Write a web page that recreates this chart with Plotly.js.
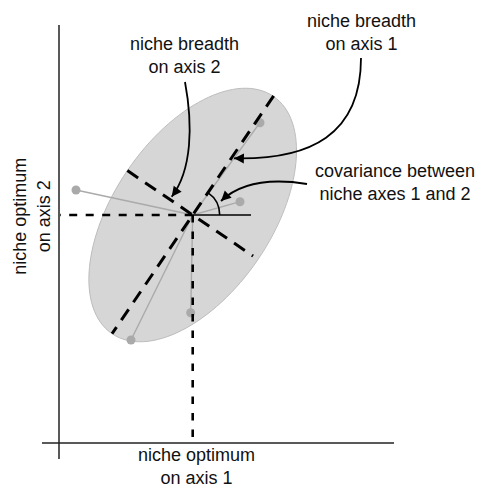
<!DOCTYPE html>
<html><head><meta charset="utf-8">
<script src="https://cdn.plot.ly/plotly-3.0.1.min.js"></script>
<style>html,body{margin:0;padding:0;background:#fff}#chart{width:477px;height:489px}</style>
</head><body><div id="chart"></div>
<script>
// ---- data (diagram units) ----
const axis1LineX = [-1.7, 33.5];      // horizontal axis extent (y = 0)
const axis2LineY = [-1.6, 41.8];      // vertical axis extent (x = 0)
const nicheCenter = [13.37, 22.8];    // niche optimum on axis 1, axis 2
const samplesX = [20.1, 18.1, 1.7, 13.17, 7.2];
const samplesY = [32.03, 24.13, 25.3, 13.03, 10.3];
const ellipseSemiAxes = [14.35, 7.9];
const ellipseAngleDeg = 55.8;
const minorAxisExtent = [-7.9, 7.3];
const majorAxisExtent = [-14.35, 14.4];
const covArcRadius = 2.7;
const refLineEndX = 19.2;
const guideEnds = [0.1, 0.5];         // left end of horizontal guide, bottom end of vertical guide
const arrowBreadth2X = [12.6, 13.4, 13.3, 11.27];
const arrowBreadth2Y = [36.1, 31.8, 27.3, 24.63];
const arrowBreadth1X = [30.2, 30.2, 25.1, 17.5];
const arrowBreadth1Y = [38.5, 30.8, 28.3, 28.47];
const arrowCovX = [24.8, 21.1, 18.1, 16.2];
const arrowCovY = [25.9, 26.5, 26.0, 24.2];
const labelTexts = ['niche breadth<br>on axis 2', 'niche breadth<br>on axis 1',
  'covariance between<br>niche axes 1 and 2', 'niche optimum<br>on axis 1', 'niche optimum<br>on axis 2'];
const labelX = [12.53, 30.27, 33.6, 13.7, -2.7];
const labelY = [38.72, 41.05, 26.05, -2.35, 22.63];
const labelAngle = [0, 0, 0, 0, -90];

// ---- build ----
const [cx, cy] = nicheCenter;
const th = ellipseAngleDeg * Math.PI / 180;
const ux = Math.cos(th), uy = Math.sin(th);      // major direction
const vx = -Math.sin(th), vy = Math.cos(th);     // minor direction
const f = v => v.toFixed(4);
function toW(p, q) { // local ellipse frame -> data
  return [cx + p * ux + q * vx, cy + p * uy + q * vy];
}
const [A, B] = ellipseSemiAxes, k = 0.5523;
const loc = [[A,0],[A,k*B],[k*A,B],[0,B],[-k*A,B],[-A,k*B],[-A,0],[-A,-k*B],[-k*A,-B],[0,-B],[k*A,-B],[A,-k*B],[A,0]];
const w = loc.map(p => toW(p[0], p[1]));
let ell = `M${f(w[0][0])},${f(w[0][1])}`;
for (let i = 1; i < w.length; i += 3) {
  ell += ` C${f(w[i][0])},${f(w[i][1])} ${f(w[i+1][0])},${f(w[i+1][1])} ${f(w[i+2][0])},${f(w[i+2][1])}`;
}
ell += ' Z';

const shapes = [];
shapes.push({type:'path', path: ell, xref:'x', yref:'y', layer:'below',
  fillcolor:'#d6d6d6', line:{color:'#bdbdbd', width:1}});
// axes
shapes.push({type:'line', xref:'x', yref:'y', x0:axis1LineX[0], x1:axis1LineX[1], y0:0, y1:0, line:{color:'#222', width:1.5}, layer:'above'});
shapes.push({type:'line', xref:'x', yref:'y', x0:0, x1:0, y0:axis2LineY[0], y1:axis2LineY[1], line:{color:'#222', width:1.5}, layer:'above'});
// guides
shapes.push({type:'line', xref:'x', yref:'y', x0:cx, x1:guideEnds[0], y0:cy, y1:cy, line:{color:'#000', width:2.6, dash:'8px,8.5px'}, layer:'above'});
shapes.push({type:'line', xref:'x', yref:'y', x0:cx, x1:cx, y0:cy, y1:guideEnds[1], line:{color:'#000', width:2.6, dash:'7.5px,9px'}, layer:'above'});
// ellipse axes
const m0 = toW(majorAxisExtent[1], 0), m1 = toW(majorAxisExtent[0], 0);
shapes.push({type:'line', xref:'x', yref:'y', x0:m0[0], y0:m0[1], x1:m1[0], y1:m1[1], line:{color:'#000', width:3, dash:'13px,8.5px'}, layer:'above'});
const n0 = toW(0, -minorAxisExtent[0]), n1 = toW(0, -minorAxisExtent[1]);
shapes.push({type:'line', xref:'x', yref:'y', x0:n0[0], y0:n0[1], x1:n1[0], y1:n1[1], line:{color:'#000', width:3, dash:'13px,8.5px'}, layer:'above'});
// reference horizontal line
shapes.push({type:'line', xref:'x', yref:'y', x0:cx, x1:refLineEndX, y0:cy, y1:cy, line:{color:'#000', width:1.6}, layer:'above'});
// covariance arc
const r = covArcRadius, kk = 4/3*Math.tan(th/4);
const p0 = [cx + r, cy], p1 = [cx + r, cy + kk*r];
const p3 = [cx + r*Math.cos(th), cy + r*Math.sin(th)];
const p2 = [p3[0] + kk*r*Math.sin(th), p3[1] - kk*r*Math.cos(th)];
shapes.push({type:'path', xref:'x', yref:'y', layer:'above',
  path:`M${f(p0[0])},${f(p0[1])} C${f(p1[0])},${f(p1[1])} ${f(p2[0])},${f(p2[1])} ${f(p3[0])},${f(p3[1])}`,
  line:{color:'#000', width:1.6}});

// curved arrows
const annotations = [];
[[arrowBreadth2X, arrowBreadth2Y],[arrowBreadth1X, arrowBreadth1Y],[arrowCovX, arrowCovY]].forEach(([X, Y]) => {
  shapes.push({type:'path', xref:'x', yref:'y', layer:'above',
    path:`M${X[0]},${Y[0]} C${X[1]},${Y[1]} ${X[2]},${Y[2]} ${X[3]},${Y[3]}`,
    line:{color:'#000', width:1.8}});
  const dx = X[2]-X[3], dy = Y[2]-Y[3], L = Math.hypot(dx, dy);
  annotations.push({x:X[3], y:Y[3], ax:X[3]+dx/L*0.8, ay:Y[3]+dy/L*0.8, axref:'x', ayref:'y',
    xref:'x', yref:'y', text:'', showarrow:true, arrowhead:2, arrowsize:1.1, arrowwidth:1.8,
    arrowcolor:'#000', standoff:0, startstandoff:0});
});
labelTexts.forEach((t, i) => {
  annotations.push({x:labelX[i], y:labelY[i], xref:'x', yref:'y', text:t, showarrow:false,
    textangle:labelAngle[i], xanchor:'center', yanchor:'middle', align:'center',
    font:{family:'Liberation Sans, Arial, sans-serif', size:18, color:'#111'}});
});

const lx = [], ly = [];
samplesX.forEach((x, i) => { lx.push(cx, x, null); ly.push(cy, samplesY[i], null); });
const traces = [
  {x: lx, y: ly, mode:'lines', line:{color:'#aaaaaa', width:1.4}, hoverinfo:'skip', showlegend:false},
  {x: samplesX, y: samplesY, mode:'markers', marker:{color:'#aaaaaa', size:9}, hoverinfo:'skip', showlegend:false}
];

const layout = {
  width:477, height:489, margin:{l:0, r:0, t:0, b:0},
  paper_bgcolor:'#fff', plot_bgcolor:'#fff', showlegend:false,
  xaxis:{range:[-5.9, 41.8], visible:false, fixedrange:true},
  yaxis:{range:[-4.6, 44.3], visible:false, fixedrange:true},
  shapes, annotations
};
Plotly.newPlot('chart', traces, layout, {staticPlot:true, displayModeBar:false});
</script></body></html>
